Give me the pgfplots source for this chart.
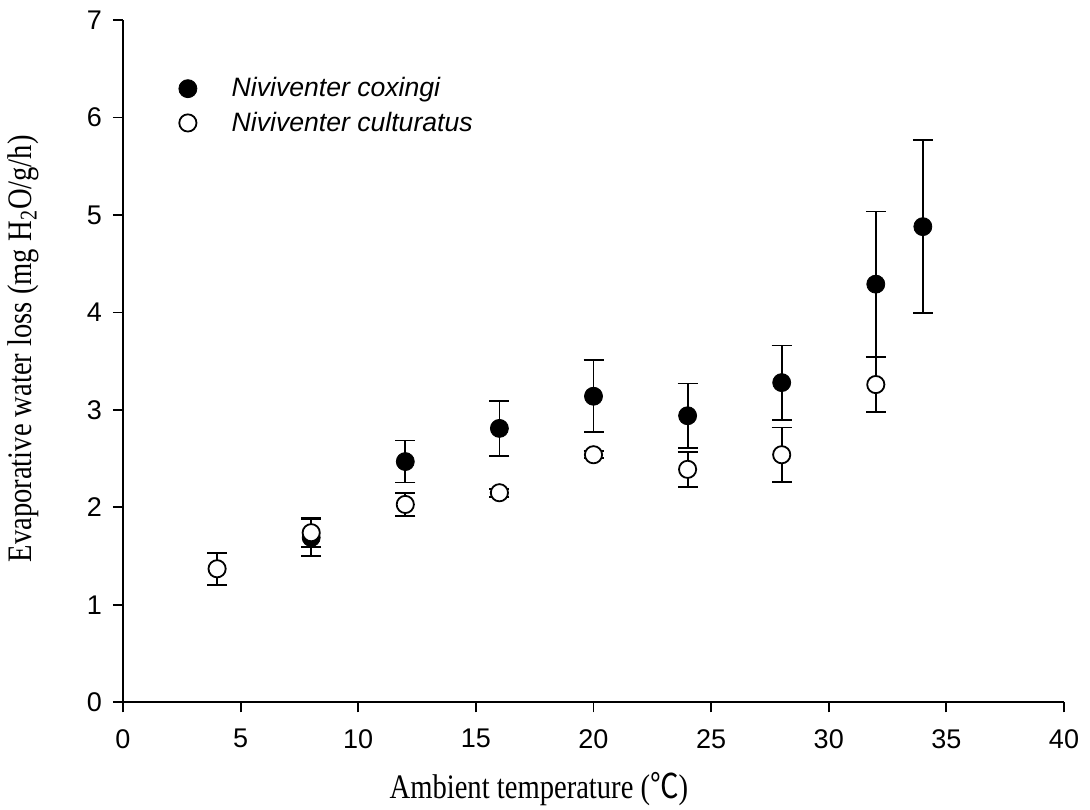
\documentclass[border=0pt]{standalone}
\usepackage{fontspec}
\setmainfont{Liberation Serif}
\setsansfont{Liberation Sans}
\newfontfamily\cjk{Noto Sans CJK SC}
\usepackage{graphicx}
\usepackage{pgfplots}
\pgfplotsset{compat=1.18}
\begin{document}
\begin{tikzpicture}
\useasboundingbox (-61.5pt,-53.35pt) rectangle (483.5pt,351.15pt);
\begin{axis}[
  at={(0,0)}, anchor=south west,
  scale only axis, width=470.5pt, height=341.15pt,
  xmin=0, xmax=40, ymin=0, ymax=7,
  clip=false,
  axis x line*=bottom, axis y line*=left,
  axis line style={line width=0.9pt, black},
  tick align=outside, major tick length=5pt,
  tick style={line width=0.9pt, black},
  xtick={0,5,...,40}, ytick={0,1,...,7},
  /pgf/number format/assume math mode=true,
  tick label style={font=\sffamily\fontsize{13.5}{16}\selectfont},
  xticklabel style={yshift=-5pt},
  yticklabel style={xshift=-2pt},
  xlabel={\scalebox{1}[1.2]{Ambient temperature ({\cjk ℃})}},
  ylabel={\scalebox{1}[1.2]{Evaporative water loss (mg H\textsubscript{2}O/g/h)}},
  label style={font=\fontsize{14.3}{16}\selectfont},
  xlabel style={at={(axis description cs:0.442,-0.1417)}, anchor=base},
  ylabel style={at={(axis description cs:-0.106,0.518)}, anchor=center},
  legend style={draw=none, fill=none, at={(0.044,0.928)}, anchor=north west,
    font=\sffamily\itshape\fontsize{13.3}{16}\selectfont, row sep=2pt},
  legend cell align=left,
  legend image code/.code={\path[draw=none] (0cm,0cm) -- (1cm,0cm); \draw[#1] plot coordinates {(0.3cm,0cm)};},
  error bars/error bar style={line width=0.9pt, black},
  error bars/error mark options={rotate=90, mark size=5pt, line width=0.9pt, black},
]
\addplot[only marks, mark=*, mark size=4.5pt, mark options={draw=black, fill=black},
  error bars/.cd, y dir=both, y explicit]
  table[x=x, y=y, y error=e] {
x y e
8 1.69 0.19
12 2.47 0.215
16 2.81 0.285
20 3.14 0.37
24 2.94 0.33
28 3.28 0.38
32 4.29 0.745
34 4.88 0.89
};
\addlegendentry{Niviventer coxingi}
\addplot[only marks, mark=*, mark size=4.3pt, mark options={draw=black, fill=white, line width=0.9pt},
  error bars/.cd, y dir=both, y explicit]
  table[x=x, y=y, y error=e] {
x y e
4 1.37 0.165
8 1.74 0.15
12 2.03 0.115
16 2.15 0.04
20 2.54 0.035
24 2.39 0.18
28 2.54 0.28
32 3.26 0.28
};
\addlegendentry{Niviventer culturatus}
\end{axis}
\end{tikzpicture}
\end{document}
